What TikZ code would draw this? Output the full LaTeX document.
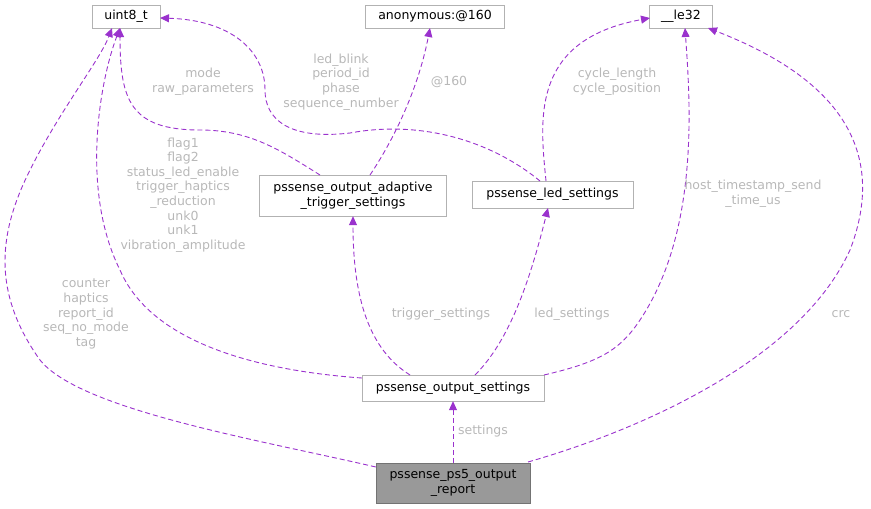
\documentclass[tikz,border=0pt]{standalone}
\usepackage{fontspec}
\setmainfont{DejaVu Sans}
\usetikzlibrary{arrows.meta}
\definecolor{ep}{HTML}{9A32CD}
\definecolor{lb}{HTML}{B8B8B8}
\begin{document}
\begin{tikzpicture}[x=1pt,y=-1pt,
 box/.style={draw=black!30,fill=white,font=\fontsize{12.5}{14.6}\selectfont,inner sep=0pt,align=center,minimum height=23},
 ed/.style={draw=ep,dash pattern=on 5pt off 3pt,-{Triangle[length=9pt,width=8pt]},line width=0.9pt},
 lab/.style={text=lb,font=\fontsize{12.5}{14.6}\selectfont,align=center,inner sep=0pt}]
\useasboundingbox (0,0) rectangle (871,509);
\node[box,minimum width=68] (u8) at (126,16.5) {uint8\_t};
\node[box,minimum width=139] (anon) at (435,16.5) {anonymous:@160};
\node[box,minimum width=63] (le) at (681,16.5) {\_\_le32};
\node[box,minimum width=187,minimum height=41] (adp) at (353,195.5) {pssense\_output\_adaptive\\\_trigger\_settings};
\node[box,minimum width=161,minimum height=27] (led) at (552.5,194.5) {pssense\_led\_settings};
\node[box,minimum width=182,minimum height=26] (os) at (453,388) {pssense\_output\_settings};
\node[box,minimum width=154,minimum height=40,fill=black!40,draw=black!55] (rep) at (453,483) {pssense\_ps5\_output\\\_report};
\draw[ed] (rep.west) ++(0,-16) .. controls (260,440) and (80,410) .. (40,360) .. controls (-10,290) and (0,230) .. (30,170) .. controls (60,110) and (100,60) .. (112,28);
\node[lab] at (86,314) {counter\\haptics\\report\_id\\seq\_no\_mode\\tag};
\draw[ed] (rep.north) -- (os.south);
\node[lab] at (483,431) {settings};
\draw[ed] (528,462) .. controls (640,430) and (800,360) .. (850,250) .. controls (900,120) and (790,60) .. (708,28);
\node[lab] at (841,314) {crc};
\draw[ed] (os.west) ++(0,-10) .. controls (250,370) and (150,340) .. (120,270) .. controls (80,190) and (100,80) .. (120,28);
\node[lab] at (183,195) {flag1\\flag2\\status\_led\_enable\\trigger\_haptics\\\_reduction\\unk0\\unk1\\vibration\_amplitude};
\draw[ed] (410,375) .. controls (370,350) and (353,300) .. (adp.south);
\node[lab] at (441,314) {trigger\_settings};
\draw[ed] (475,375) .. controls (510,340) and (530,280) .. (548,208);
\node[lab] at (572,314) {led\_settings};
\draw[ed] (544,375) .. controls (600,362) and (620,350) .. (640,320) .. controls (700,230) and (690,100) .. (685,28);
\node[lab] at (753,194) {host\_timestamp\_send\\\_time\_us};
\draw[ed] (320,175) .. controls (280,150) and (250,130) .. (200,130) .. controls (130,130) and (120,100) .. (120,28);
\node[lab] at (203,82) {mode\\raw\_parameters};
\draw[ed] (370,175) .. controls (400,130) and (420,80) .. (430,28);
\node[lab] at (449,82) {@160};
\draw[ed] (540,181) .. controls (490,140) and (420,120) .. (350,133) .. controls (290,140) and (265,120) .. (265,90) .. controls (265,50) and (230,20) .. (160,18);
\node[lab] at (341,82) {led\_blink\\period\_id\\phase\\sequence\_number};
\draw[ed] (546,181) .. controls (540,120) and (530,40) .. (650,18);
\node[lab] at (617,82) {cycle\_length\\cycle\_position};
\end{tikzpicture}
\end{document}
